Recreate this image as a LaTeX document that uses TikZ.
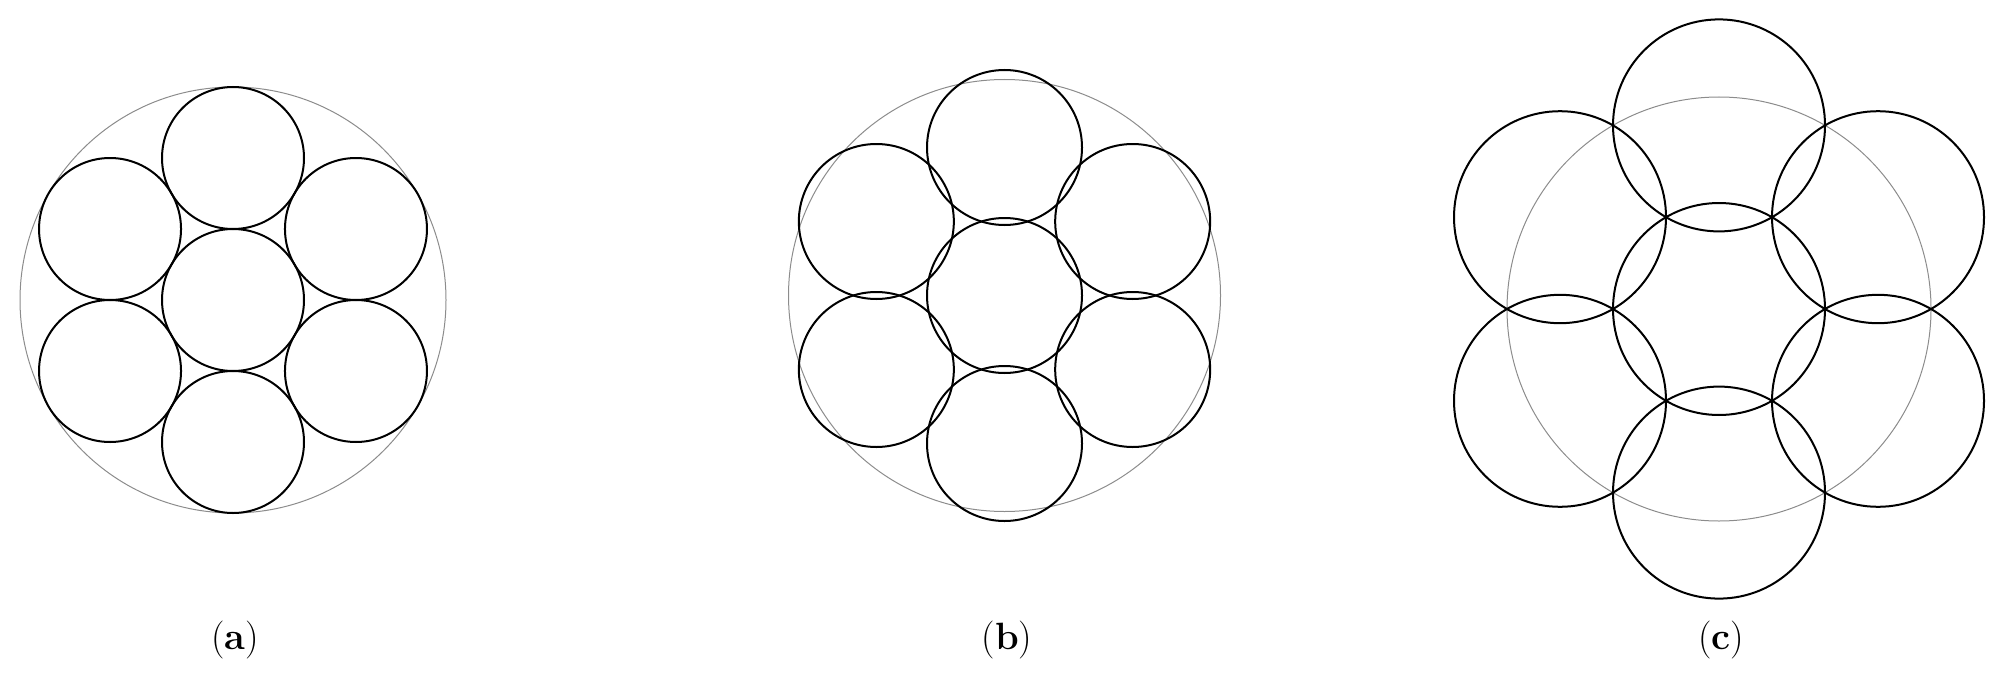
\documentclass[tikz,border=0pt]{standalone}
\begin{document}
\begin{tikzpicture}[x=0.5pt,y=-0.5pt,
  hull/.style={draw=black!45,line width=0.5pt},
  wire/.style={draw=black,line width=1pt},
  caption/.style={anchor=base,inner sep=0pt,font=\fontsize{19}{22}\selectfont}]
\useasboundingbox (0,0) rectangle (2000,674);
% panel (a)
\begin{scope}[shift={(233,300)}]
  \draw[hull] (0,0) circle (213);
  \draw[wire] (0,0) circle (71);
  \foreach \a in {90,150,210,270,330,30}
    \draw[wire] (\a:142) circle (71);
\end{scope}
% panel (b)
\begin{scope}[shift={(1004.5,295.5)}]
  \draw[hull] (0,0) circle (216);
  \draw[wire] (0,0) circle (77.5);
  \foreach \a in {90,150,210,270,330,30}
    \draw[wire] (\a:148) circle (77.5);
\end{scope}
% panel (c)
\begin{scope}[shift={(1719,309)}]
  \draw[hull] (0,0) circle (212);
  \draw[wire] (0,0) circle (106);
  \foreach \a in {90,150,210,270,330,30}
    \draw[wire] (\a:183.6) circle (106);
\end{scope}
\node[caption] (la) at (235,649) {(\textbf{a})};
\node[caption] (lb) at (1007,649) {(\textbf{b})};
\node[caption] (lc) at (1721,649) {(\textbf{c})};
\end{tikzpicture}
\end{document}
